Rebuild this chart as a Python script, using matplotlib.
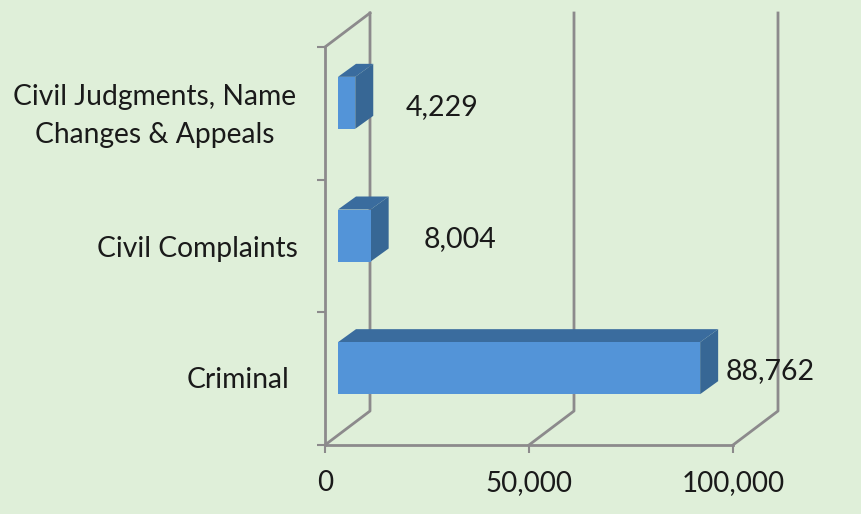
import matplotlib
matplotlib.use("Agg")
import matplotlib.pyplot as plt
from matplotlib.patches import Polygon

categories = ["Criminal", "Civil Complaints", "Civil Judgments, Name\nChanges & Appeals"]
values = [88762, 8004, 4229]
value_labels = ["88,762", "8,004", "4,229"]
x_ticks = [0, 50000, 100000]
x_tick_labels = ["0", "50,000", "100,000"]

W, H = 861, 514
BG = "#dfefd9"
GRID = "#8c8a8c"
FRONT = "#5394d8"
TOP = "#3a6c9e"
SIDE = "#376795"
TEXT = "#1a1a1a"

plt.rcParams["font.family"] = ["Lato", "DejaVu Sans"]

fig = plt.figure(figsize=(W / 100, H / 100), dpi=100, facecolor=BG)
# front plane of the fake 3d box: x 325-733 px, y 47-445 px
ax = fig.add_axes([325 / W, (H - 445) / H, 408 / W, 398 / H], facecolor="none")
ax.set_xlim(0, 100000)
ax.set_ylim(0, 3)

px_x = 100000 / 408
px_y = 3 / 398
depth_x, depth_y = 45 * px_x, 34 * px_y

for side in ["top", "right"]:
    ax.spines[side].set_visible(False)
for side in ["left", "bottom"]:
    ax.spines[side].set_color(GRID)
    ax.spines[side].set_linewidth(2)

ax.set_xticks(x_ticks)
ax.set_xticklabels(x_tick_labels, fontsize=20, color=TEXT)
ax.set_yticks([0, 1, 2, 3])
ax.set_yticklabels([])
ax.tick_params(axis="both", length=6, width=1.5, color=GRID)
ax.tick_params(axis="x", pad=12)

# back wall gridlines and floor diagonals
for t in x_ticks:
    ax.plot([t, t + depth_x, t + depth_x], [0, depth_y, 3 + depth_y],
            color=GRID, lw=2, clip_on=False, zorder=1)
ax.plot([0, depth_x], [3, 3 + depth_y], color=GRID, lw=2, clip_on=False, zorder=1)

# bars: front face pushed into the box, then top and side faces
x0 = 13 * px_x
lift = 10.5 * px_y
bar_h = 52 * px_y
bar_dx, bar_dy = 18 * px_x, 13 * px_y
for i, v in enumerate(values):
    x1 = x0 + v * 408 / 100000 * px_x
    y0 = i + 0.5 - bar_h / 2 + lift
    y1 = y0 + bar_h
    faces = [
        ([(x0, y1), (x1, y1), (x1 + bar_dx, y1 + bar_dy), (x0 + bar_dx, y1 + bar_dy)], TOP),
        ([(x1, y0), (x1 + bar_dx, y0 + bar_dy), (x1 + bar_dx, y1 + bar_dy), (x1, y1)], SIDE),
        ([(x0, y0), (x1, y0), (x1, y1), (x0, y1)], FRONT),
    ]
    for pts, col in faces:
        ax.add_patch(Polygon(pts, closed=True, facecolor=col, edgecolor="none",
                             clip_on=False, zorder=3))

# value labels were placed by hand in the original
label_px = [(726, 371), (424, 239), (406, 107)]
for s, (lx, ly) in zip(value_labels, label_px):
    fig.text(lx / W, 1 - ly / H, s, fontsize=20.5, color=TEXT, ha="left", va="center", zorder=5)

cat_px = [(238, 380), (197, 249), (155, 116)]
for s, (lx, ly) in zip(categories, cat_px):
    fig.text(lx / W, 1 - ly / H, s, fontsize=20.3, color=TEXT, ha="center", va="center",
             multialignment="center", linespacing=1.6)

fig.savefig("out.png", dpi=100, facecolor=BG)
